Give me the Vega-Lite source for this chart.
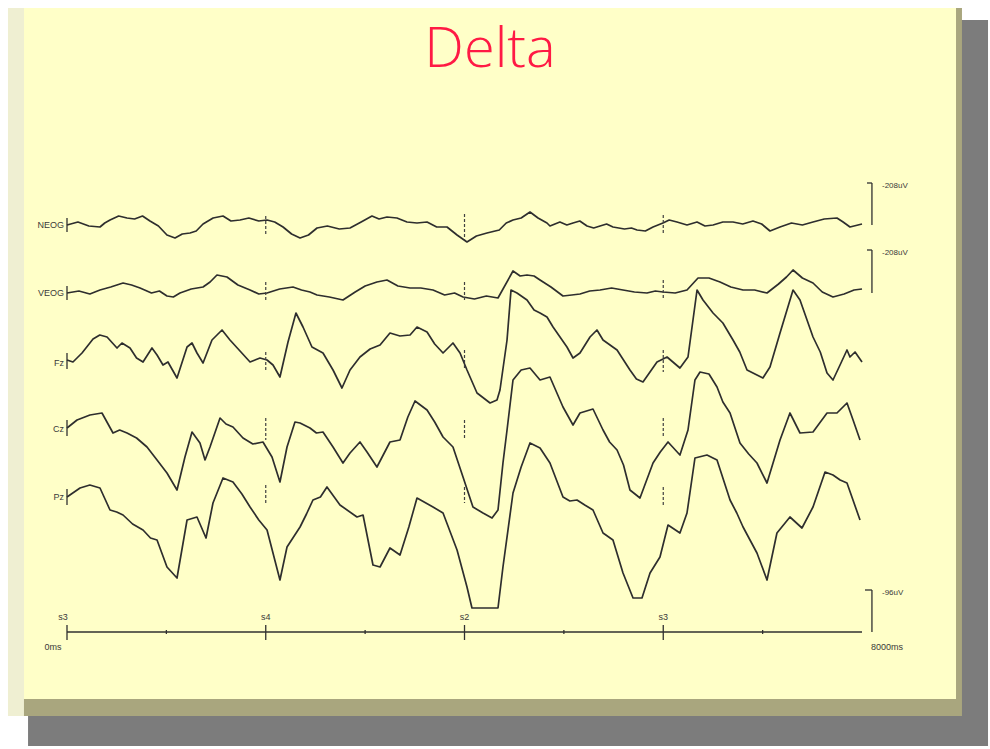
{
  "$schema": "https://vega.github.io/schema/vega-lite/v6.json",
  "autosize": {"type": "fit", "contains": "padding"},
  "width": 990,
  "height": 749,
  "padding": 0,
  "background": "#ffffff",
  "config": {"view": {"stroke": null}},
  "datasets": {
    "panels": [
      {"part": "shadow", "t": -392, "t2": 9268, "v": 612, "v2": -114},
      {"part": "edge", "t": -533, "t2": 9006, "v": 624, "v2": -84},
      {"part": "paper", "t": -533, "t2": 8946, "v": 624, "v2": -67},
      {"part": "leftstrip", "t": -594, "t2": -433, "v": 624, "v2": -84}
    ],
    "traces": [
      {"ch":"NEOG","t":0,"v":407},{"ch":"NEOG","t":332,"v":405},{"ch":"NEOG","t":433,"v":412},{"ch":"NEOG","t":604,"v":414},{"ch":"NEOG","t":835,"v":411},{"ch":"NEOG","t":1006,"v":397},{"ch":"NEOG","t":1087,"v":394},{"ch":"NEOG","t":1238,"v":399},{"ch":"NEOG","t":1369,"v":408},{"ch":"NEOG","t":1570,"v":416},{"ch":"NEOG","t":1741,"v":412},{"ch":"NEOG","t":2013,"v":412},{"ch":"NEOG","t":2174,"v":405},{"ch":"NEOG","t":2345,"v":394},{"ch":"NEOG","t":2516,"v":404},{"ch":"NEOG","t":2848,"v":404},{"ch":"NEOG","t":3069,"v":416},{"ch":"NEOG","t":3220,"v":415},{"ch":"NEOG","t":3421,"v":410},{"ch":"NEOG","t":3522,"v":409},{"ch":"NEOG","t":3623,"v":410},{"ch":"NEOG","t":3824,"v":405},{"ch":"NEOG","t":3925,"v":397},{"ch":"NEOG","t":4025,"v":390},{"ch":"NEOG","t":4226,"v":399},{"ch":"NEOG","t":4488,"v":412},{"ch":"NEOG","t":4659,"v":420},{"ch":"NEOG","t":4830,"v":409},{"ch":"NEOG","t":4860,"v":406},{"ch":"NEOG","t":5092,"v":409},{"ch":"NEOG","t":5233,"v":406},{"ch":"NEOG","t":5364,"v":406},{"ch":"NEOG","t":5494,"v":405},{"ch":"NEOG","t":5736,"v":402},{"ch":"NEOG","t":5897,"v":405},{"ch":"NEOG","t":5997,"v":409},{"ch":"NEOG","t":6138,"v":410},{"ch":"NEOG","t":6239,"v":407},{"ch":"NEOG","t":6340,"v":410},{"ch":"NEOG","t":6501,"v":407},{"ch":"NEOG","t":6702,"v":410},{"ch":"NEOG","t":6903,"v":411},{"ch":"NEOG","t":7074,"v":401},{"ch":"NEOG","t":7175,"v":405},{"ch":"NEOG","t":7507,"v":410},{"ch":"NEOG","t":7748,"v":414},{"ch":"NEOG","t":7879,"v":405},{"ch":"NEOG","t":8000,"v":408},
      {"ch":"NEOG","t":110,"v":410},{"ch":"NEOG","t":220,"v":406},{"ch":"NEOG","t":380,"v":409},{"ch":"NEOG","t":520,"v":416},{"ch":"NEOG","t":680,"v":413},{"ch":"NEOG","t":760,"v":416},{"ch":"NEOG","t":920,"v":406},{"ch":"NEOG","t":1160,"v":398},{"ch":"NEOG","t":1300,"v":401},{"ch":"NEOG","t":1470,"v":414},{"ch":"NEOG","t":1650,"v":411},{"ch":"NEOG","t":1830,"v":414},{"ch":"NEOG","t":1930,"v":411},{"ch":"NEOG","t":2090,"v":410},{"ch":"NEOG","t":2260,"v":398},{"ch":"NEOG","t":2430,"v":397},{"ch":"NEOG","t":2620,"v":406},{"ch":"NEOG","t":2740,"v":403},{"ch":"NEOG","t":2960,"v":410},{"ch":"NEOG","t":3140,"v":413},{"ch":"NEOG","t":3320,"v":414},{"ch":"NEOG","t":3720,"v":405},{"ch":"NEOG","t":4120,"v":396},{"ch":"NEOG","t":4350,"v":402},{"ch":"NEOG","t":4420,"v":409},{"ch":"NEOG","t":4570,"v":414},{"ch":"NEOG","t":4740,"v":414},{"ch":"NEOG","t":4960,"v":410},{"ch":"NEOG","t":5030,"v":407},{"ch":"NEOG","t":5160,"v":411},{"ch":"NEOG","t":5300,"v":404},{"ch":"NEOG","t":5430,"v":408},{"ch":"NEOG","t":5610,"v":403},{"ch":"NEOG","t":5680,"v":404},{"ch":"NEOG","t":5820,"v":401},{"ch":"NEOG","t":6060,"v":412},{"ch":"NEOG","t":6420,"v":406},{"ch":"NEOG","t":6600,"v":410},{"ch":"NEOG","t":6800,"v":408},{"ch":"NEOG","t":6990,"v":408},{"ch":"NEOG","t":7290,"v":409},{"ch":"NEOG","t":7400,"v":407},{"ch":"NEOG","t":7620,"v":413},{"ch":"NEOG","t":7810,"v":410},
      {"ch":"VEOG","t":0,"v":339},{"ch":"VEOG","t":332,"v":342},{"ch":"VEOG","t":564,"v":349},{"ch":"VEOG","t":735,"v":344},{"ch":"VEOG","t":1006,"v":336},{"ch":"VEOG","t":1137,"v":339},{"ch":"VEOG","t":1369,"v":345},{"ch":"VEOG","t":1509,"v":357},{"ch":"VEOG","t":1610,"v":355},{"ch":"VEOG","t":1842,"v":342},{"ch":"VEOG","t":2013,"v":339},{"ch":"VEOG","t":2274,"v":345},{"ch":"VEOG","t":2445,"v":340},{"ch":"VEOG","t":2516,"v":337},{"ch":"VEOG","t":2777,"v":332},{"ch":"VEOG","t":3119,"v":350},{"ch":"VEOG","t":3220,"v":352},{"ch":"VEOG","t":3452,"v":344},{"ch":"VEOG","t":3683,"v":342},{"ch":"VEOG","t":3985,"v":335},{"ch":"VEOG","t":4337,"v":334},{"ch":"VEOG","t":4488,"v":361},{"ch":"VEOG","t":4629,"v":357},{"ch":"VEOG","t":4760,"v":352},{"ch":"VEOG","t":4991,"v":336},{"ch":"VEOG","t":5162,"v":338},{"ch":"VEOG","t":5364,"v":342},{"ch":"VEOG","t":5595,"v":342},{"ch":"VEOG","t":5836,"v":339},{"ch":"VEOG","t":5997,"v":340},{"ch":"VEOG","t":6239,"v":342},{"ch":"VEOG","t":6350,"v":354},{"ch":"VEOG","t":6571,"v":350},{"ch":"VEOG","t":6803,"v":342},{"ch":"VEOG","t":7044,"v":339},{"ch":"VEOG","t":7306,"v":362},{"ch":"VEOG","t":7507,"v":349},{"ch":"VEOG","t":7708,"v":335},{"ch":"VEOG","t":8000,"v":343},
      {"ch":"VEOG","t":120,"v":341},{"ch":"VEOG","t":230,"v":338},{"ch":"VEOG","t":440,"v":345},{"ch":"VEOG","t":650,"v":347},{"ch":"VEOG","t":850,"v":339},{"ch":"VEOG","t":930,"v":341},{"ch":"VEOG","t":1070,"v":335},{"ch":"VEOG","t":1250,"v":343},{"ch":"VEOG","t":1440,"v":350},{"ch":"VEOG","t":1720,"v":347},{"ch":"VEOG","t":1930,"v":338},{"ch":"VEOG","t":2140,"v":343},{"ch":"VEOG","t":2360,"v":342},{"ch":"VEOG","t":2640,"v":335},{"ch":"VEOG","t":2900,"v":340},{"ch":"VEOG","t":3000,"v":346},{"ch":"VEOG","t":3330,"v":346},{"ch":"VEOG","t":3560,"v":344},{"ch":"VEOG","t":3800,"v":337},{"ch":"VEOG","t":3900,"v":339},{"ch":"VEOG","t":4100,"v":333},{"ch":"VEOG","t":4220,"v":336},{"ch":"VEOG","t":4560,"v":356},{"ch":"VEOG","t":4700,"v":356},{"ch":"VEOG","t":4870,"v":345},{"ch":"VEOG","t":5080,"v":337},{"ch":"VEOG","t":5260,"v":341},{"ch":"VEOG","t":5480,"v":344},{"ch":"VEOG","t":5710,"v":340},{"ch":"VEOG","t":5920,"v":341},{"ch":"VEOG","t":6120,"v":339},{"ch":"VEOG","t":6460,"v":354},{"ch":"VEOG","t":6680,"v":345},{"ch":"VEOG","t":6920,"v":342},{"ch":"VEOG","t":7160,"v":348},{"ch":"VEOG","t":7240,"v":355},{"ch":"VEOG","t":7400,"v":354},{"ch":"VEOG","t":7600,"v":340},{"ch":"VEOG","t":7820,"v":338},{"ch":"VEOG","t":7920,"v":342},
      {"ch":"Fz","t":0,"v":272},{"ch":"Fz","t":60,"v":270},{"ch":"Fz","t":151,"v":279},{"ch":"Fz","t":262,"v":293},{"ch":"Fz","t":403,"v":295},{"ch":"Fz","t":503,"v":284},{"ch":"Fz","t":553,"v":289},{"ch":"Fz","t":634,"v":284},{"ch":"Fz","t":765,"v":270},{"ch":"Fz","t":855,"v":284},{"ch":"Fz","t":906,"v":277},{"ch":"Fz","t":966,"v":267},{"ch":"Fz","t":1016,"v":270},{"ch":"Fz","t":1107,"v":254},{"ch":"Fz","t":1208,"v":285},{"ch":"Fz","t":1258,"v":289},{"ch":"Fz","t":1308,"v":279},{"ch":"Fz","t":1369,"v":269},{"ch":"Fz","t":1459,"v":292},{"ch":"Fz","t":1560,"v":302},{"ch":"Fz","t":1640,"v":292},{"ch":"Fz","t":1842,"v":270},{"ch":"Fz","t":1942,"v":274},{"ch":"Fz","t":2013,"v":272},{"ch":"Fz","t":2073,"v":267},{"ch":"Fz","t":2143,"v":255},{"ch":"Fz","t":2224,"v":290},{"ch":"Fz","t":2304,"v":319},{"ch":"Fz","t":2375,"v":305},{"ch":"Fz","t":2465,"v":285},{"ch":"Fz","t":2576,"v":279},{"ch":"Fz","t":2677,"v":262},{"ch":"Fz","t":2767,"v":244},{"ch":"Fz","t":2848,"v":262},{"ch":"Fz","t":2948,"v":275},{"ch":"Fz","t":3150,"v":287},{"ch":"Fz","t":3250,"v":299},{"ch":"Fz","t":3452,"v":297},{"ch":"Fz","t":3522,"v":305},{"ch":"Fz","t":3623,"v":300},{"ch":"Fz","t":3784,"v":279},{"ch":"Fz","t":3884,"v":289},{"ch":"Fz","t":3955,"v":279},{"ch":"Fz","t":4025,"v":262},{"ch":"Fz","t":4126,"v":239},{"ch":"Fz","t":4257,"v":229},{"ch":"Fz","t":4327,"v":232},{"ch":"Fz","t":4357,"v":242},{"ch":"Fz","t":4428,"v":292},{"ch":"Fz","t":4468,"v":342},{"ch":"Fz","t":4528,"v":339},{"ch":"Fz","t":4629,"v":332},{"ch":"Fz","t":4760,"v":319},{"ch":"Fz","t":4891,"v":305},{"ch":"Fz","t":5031,"v":285},{"ch":"Fz","t":5092,"v":274},{"ch":"Fz","t":5162,"v":279},{"ch":"Fz","t":5263,"v":295},{"ch":"Fz","t":5333,"v":302},{"ch":"Fz","t":5394,"v":292},{"ch":"Fz","t":5535,"v":282},{"ch":"Fz","t":5665,"v":262},{"ch":"Fz","t":5796,"v":250},{"ch":"Fz","t":5937,"v":270},{"ch":"Fz","t":6038,"v":275},{"ch":"Fz","t":6168,"v":264},{"ch":"Fz","t":6249,"v":275},{"ch":"Fz","t":6340,"v":342},{"ch":"Fz","t":6400,"v":332},{"ch":"Fz","t":6501,"v":319},{"ch":"Fz","t":6702,"v":292},{"ch":"Fz","t":6843,"v":262},{"ch":"Fz","t":7003,"v":254},{"ch":"Fz","t":7074,"v":265},{"ch":"Fz","t":7175,"v":299},{"ch":"Fz","t":7306,"v":342},{"ch":"Fz","t":7376,"v":332},{"ch":"Fz","t":7507,"v":295},{"ch":"Fz","t":7648,"v":259},{"ch":"Fz","t":7708,"v":252},{"ch":"Fz","t":7779,"v":267},{"ch":"Fz","t":7849,"v":282},{"ch":"Fz","t":7879,"v":275},{"ch":"Fz","t":7930,"v":280},{"ch":"Fz","t":8000,"v":270},
      {"ch":"Fz","t":3050,"v":283},{"ch":"Fz","t":3350,"v":296},{"ch":"Fz","t":3700,"v":288},{"ch":"Fz","t":4700,"v":322},{"ch":"Fz","t":4830,"v":315},{"ch":"Fz","t":5730,"v":253},{"ch":"Fz","t":6600,"v":309},{"ch":"Fz","t":6770,"v":280},{"ch":"Fz","t":7580,"v":280},{"ch":"Fz","t":330,"v":297},{"ch":"Fz","t":700,"v":274},
      {"ch":"Cz","t":0,"v":204},{"ch":"Cz","t":101,"v":212},{"ch":"Cz","t":231,"v":217},{"ch":"Cz","t":352,"v":219},{"ch":"Cz","t":463,"v":199},{"ch":"Cz","t":604,"v":199},{"ch":"Cz","t":805,"v":185},{"ch":"Cz","t":906,"v":172},{"ch":"Cz","t":1006,"v":159},{"ch":"Cz","t":1107,"v":142},{"ch":"Cz","t":1187,"v":175},{"ch":"Cz","t":1258,"v":200},{"ch":"Cz","t":1338,"v":189},{"ch":"Cz","t":1389,"v":172},{"ch":"Cz","t":1439,"v":185},{"ch":"Cz","t":1540,"v":214},{"ch":"Cz","t":1670,"v":205},{"ch":"Cz","t":1771,"v":194},{"ch":"Cz","t":1972,"v":190},{"ch":"Cz","t":2063,"v":175},{"ch":"Cz","t":2143,"v":150},{"ch":"Cz","t":2214,"v":185},{"ch":"Cz","t":2294,"v":210},{"ch":"Cz","t":2345,"v":209},{"ch":"Cz","t":2445,"v":204},{"ch":"Cz","t":2576,"v":200},{"ch":"Cz","t":2677,"v":185},{"ch":"Cz","t":2777,"v":169},{"ch":"Cz","t":2848,"v":179},{"ch":"Cz","t":2948,"v":190},{"ch":"Cz","t":3019,"v":180},{"ch":"Cz","t":3119,"v":165},{"ch":"Cz","t":3250,"v":190},{"ch":"Cz","t":3351,"v":192},{"ch":"Cz","t":3502,"v":231},{"ch":"Cz","t":3623,"v":222},{"ch":"Cz","t":3784,"v":195},{"ch":"Cz","t":3884,"v":185},{"ch":"Cz","t":3985,"v":155},{"ch":"Cz","t":4085,"v":125},{"ch":"Cz","t":4186,"v":119},{"ch":"Cz","t":4277,"v":114},{"ch":"Cz","t":4337,"v":122},{"ch":"Cz","t":4387,"v":169},{"ch":"Cz","t":4428,"v":202},{"ch":"Cz","t":4488,"v":252},{"ch":"Cz","t":4659,"v":264},{"ch":"Cz","t":4760,"v":252},{"ch":"Cz","t":4860,"v":255},{"ch":"Cz","t":4991,"v":225},{"ch":"Cz","t":5092,"v":207},{"ch":"Cz","t":5162,"v":219},{"ch":"Cz","t":5293,"v":223},{"ch":"Cz","t":5394,"v":202},{"ch":"Cz","t":5535,"v":182},{"ch":"Cz","t":5665,"v":142},{"ch":"Cz","t":5766,"v":134},{"ch":"Cz","t":5897,"v":169},{"ch":"Cz","t":6048,"v":190},{"ch":"Cz","t":6168,"v":177},{"ch":"Cz","t":6249,"v":202},{"ch":"Cz","t":6319,"v":252},{"ch":"Cz","t":6370,"v":260},{"ch":"Cz","t":6541,"v":245},{"ch":"Cz","t":6672,"v":219},{"ch":"Cz","t":6772,"v":189},{"ch":"Cz","t":6943,"v":169},{"ch":"Cz","t":7044,"v":149},{"ch":"Cz","t":7175,"v":192},{"ch":"Cz","t":7275,"v":219},{"ch":"Cz","t":7376,"v":199},{"ch":"Cz","t":7507,"v":200},{"ch":"Cz","t":7648,"v":219},{"ch":"Cz","t":7748,"v":219},{"ch":"Cz","t":7849,"v":229},{"ch":"Cz","t":7910,"v":212},{"ch":"Cz","t":7980,"v":192},
      {"ch":"Cz","t":530,"v":202},{"ch":"Cz","t":700,"v":194},{"ch":"Cz","t":1600,"v":208},{"ch":"Cz","t":1870,"v":188},{"ch":"Cz","t":2510,"v":199},{"ch":"Cz","t":3430,"v":215},{"ch":"Cz","t":3700,"v":210},{"ch":"Cz","t":4570,"v":262},{"ch":"Cz","t":5460,"v":190},{"ch":"Cz","t":5600,"v":167},{"ch":"Cz","t":5970,"v":180},{"ch":"Cz","t":6460,"v":258},{"ch":"Cz","t":6600,"v":230},{"ch":"Cz","t":6860,"v":178},
      {"ch":"Pz","t":0,"v":135},{"ch":"Pz","t":131,"v":144},{"ch":"Pz","t":332,"v":144},{"ch":"Pz","t":433,"v":122},{"ch":"Pz","t":564,"v":117},{"ch":"Pz","t":765,"v":102},{"ch":"Pz","t":906,"v":92},{"ch":"Pz","t":1006,"v":65},{"ch":"Pz","t":1107,"v":54},{"ch":"Pz","t":1208,"v":112},{"ch":"Pz","t":1308,"v":115},{"ch":"Pz","t":1399,"v":94},{"ch":"Pz","t":1469,"v":129},{"ch":"Pz","t":1570,"v":154},{"ch":"Pz","t":1670,"v":150},{"ch":"Pz","t":1842,"v":125},{"ch":"Pz","t":2013,"v":102},{"ch":"Pz","t":2143,"v":52},{"ch":"Pz","t":2214,"v":85},{"ch":"Pz","t":2345,"v":105},{"ch":"Pz","t":2475,"v":132},{"ch":"Pz","t":2616,"v":145},{"ch":"Pz","t":2747,"v":127},{"ch":"Pz","t":2918,"v":115},{"ch":"Pz","t":2979,"v":117},{"ch":"Pz","t":3079,"v":67},{"ch":"Pz","t":3150,"v":65},{"ch":"Pz","t":3250,"v":84},{"ch":"Pz","t":3351,"v":77},{"ch":"Pz","t":3522,"v":134},{"ch":"Pz","t":3683,"v":125},{"ch":"Pz","t":3784,"v":119},{"ch":"Pz","t":3925,"v":82},{"ch":"Pz","t":4025,"v":45},{"ch":"Pz","t":4075,"v":24},{"ch":"Pz","t":4337,"v":24},{"ch":"Pz","t":4387,"v":65},{"ch":"Pz","t":4488,"v":139},{"ch":"Pz","t":4659,"v":189},{"ch":"Pz","t":4760,"v":184},{"ch":"Pz","t":4860,"v":169},{"ch":"Pz","t":4991,"v":135},{"ch":"Pz","t":5132,"v":132},{"ch":"Pz","t":5293,"v":122},{"ch":"Pz","t":5394,"v":99},{"ch":"Pz","t":5494,"v":92},{"ch":"Pz","t":5595,"v":59},{"ch":"Pz","t":5696,"v":34},{"ch":"Pz","t":5786,"v":34},{"ch":"Pz","t":5867,"v":59},{"ch":"Pz","t":5967,"v":75},{"ch":"Pz","t":6048,"v":107},{"ch":"Pz","t":6168,"v":99},{"ch":"Pz","t":6239,"v":119},{"ch":"Pz","t":6319,"v":174},{"ch":"Pz","t":6440,"v":177},{"ch":"Pz","t":6541,"v":172},{"ch":"Pz","t":6672,"v":132},{"ch":"Pz","t":6803,"v":105},{"ch":"Pz","t":6943,"v":79},{"ch":"Pz","t":7044,"v":52},{"ch":"Pz","t":7144,"v":99},{"ch":"Pz","t":7275,"v":115},{"ch":"Pz","t":7396,"v":104},{"ch":"Pz","t":7507,"v":125},{"ch":"Pz","t":7628,"v":160},{"ch":"Pz","t":7708,"v":157},{"ch":"Pz","t":7849,"v":149},{"ch":"Pz","t":7980,"v":112},
      {"ch":"Pz","t":230,"v":147},{"ch":"Pz","t":500,"v":120},{"ch":"Pz","t":660,"v":108},{"ch":"Pz","t":840,"v":94},{"ch":"Pz","t":1760,"v":138},{"ch":"Pz","t":1930,"v":112},{"ch":"Pz","t":2410,"v":118},{"ch":"Pz","t":2550,"v":135},{"ch":"Pz","t":3440,"v":105},{"ch":"Pz","t":4570,"v":165},{"ch":"Pz","t":5060,"v":131},{"ch":"Pz","t":5210,"v":127},{"ch":"Pz","t":6740,"v":119},{"ch":"Pz","t":7780,"v":152}
    ],
    "solidRules": [
      {"t":0,"t2":0,"v":414,"v2":400},
      {"t":0,"t2":0,"v":346,"v2":332},
      {"t":0,"t2":0,"v":279,"v2":263},
      {"t":0,"t2":0,"v":212,"v2":196},
      {"t":0,"t2":0,"v":143,"v2":127},
      {"t":0,"t2":8000,"v":0,"v2":0},
      {"t":0,"t2":0,"v":-8,"v2":7},
      {"t":2000,"t2":2000,"v":-8,"v2":7},
      {"t":4000,"t2":4000,"v":-8,"v2":7},
      {"t":6000,"t2":6000,"v":-8,"v2":7},
      {"t":1000,"t2":1000,"v":-2,"v2":2},
      {"t":3000,"t2":3000,"v":-2,"v2":2},
      {"t":5000,"t2":5000,"v":-2,"v2":2},
      {"t":7000,"t2":7000,"v":-2,"v2":2},
      {"t":8100,"t2":8100,"v":449,"v2":407},
      {"t":8100,"t2":8100,"v":382,"v2":339},
      {"t":8100,"t2":8100,"v":42,"v2":0},
      {"t":8050,"t2":8100,"v":449,"v2":449},
      {"t":8050,"t2":8100,"v":382,"v2":382},
      {"t":8030,"t2":8100,"v":42,"v2":42}
    ],
    "events": [
      {"t":2000,"v":416,"v2":398},{"t":4000,"v":418,"v2":392},{"t":6000,"v":417,"v2":397},
      {"t":2000,"v":350,"v2":332},{"t":4000,"v":350,"v2":332},{"t":6000,"v":352,"v2":332},
      {"t":2000,"v":280,"v2":260},{"t":4000,"v":282,"v2":262},{"t":6000,"v":282,"v2":260},
      {"t":2000,"v":214,"v2":192},{"t":4000,"v":212,"v2":192},{"t":6000,"v":214,"v2":194},
      {"t":2000,"v":147,"v2":127},{"t":4000,"v":145,"v2":129},{"t":6000,"v":145,"v2":127}
    ],
    "chanLabels": [
      {"t":-30,"v":404,"txt":"NEOG"},
      {"t":-30,"v":336,"txt":"VEOG"},
      {"t":-30,"v":266,"txt":"Fz"},
      {"t":-30,"v":200,"txt":"Cz"},
      {"t":-30,"v":132,"txt":"Pz"}
    ],
    "centerLabels": [
      {"t":-40,"v":12,"txt":"s3"},
      {"t":2000,"v":12,"txt":"s4"},
      {"t":4000,"v":12,"txt":"s2"},
      {"t":6000,"v":12,"txt":"s3"},
      {"t":-141,"v":-18,"txt":"0ms"},
      {"t":8251,"v":-18,"txt":"8000ms"}
    ],
    "scaleLabels": [
      {"t":8201,"v":444,"txt":"-208uV"},
      {"t":8201,"v":377,"txt":"-208uV"},
      {"t":8201,"v":37,"txt":"-96uV"}
    ],
    "title": [
      {"t":4257,"v":565,"txt":"Delta"}
    ]
  },
  "encoding": {},
  "layer": [
    {
      "data": {"name": "panels"},
      "mark": {"type": "rect"},
      "encoding": {
        "x": {"field": "t", "type": "quantitative", "scale": {"domain": [-674.2, 9288], "nice": false, "zero": false}, "axis": null},
        "x2": {"field": "t2"},
        "y": {"field": "v", "type": "quantitative", "scale": {"domain": [-117, 632], "nice": false, "zero": false}, "axis": null},
        "y2": {"field": "v2"},
        "color": {"field": "part", "type": "nominal", "scale": {"domain": ["shadow", "edge", "paper", "leftstrip"], "range": ["#7c7c7c", "#a9a67e", "#ffffc8", "#efefd2"]}, "legend": null}
      }
    },
    {
      "data": {"name": "traces"},
      "mark": {"type": "line", "color": "#2e2e2e", "strokeWidth": 1.7, "strokeJoin": "round", "interpolate": "linear"},
      "encoding": {
        "x": {"field": "t", "type": "quantitative"},
        "y": {"field": "v", "type": "quantitative"},
        "detail": {"field": "ch", "type": "nominal"},
        "order": {"field": "t", "type": "quantitative"}
      }
    },
    {
      "data": {"name": "solidRules"},
      "mark": {"type": "rule", "color": "#303030", "strokeWidth": 1.3},
      "encoding": {
        "x": {"field": "t", "type": "quantitative"},
        "x2": {"field": "t2"},
        "y": {"field": "v", "type": "quantitative"},
        "y2": {"field": "v2"}
      }
    },
    {
      "data": {"name": "events"},
      "mark": {"type": "rule", "color": "#404040", "strokeWidth": 1.2, "strokeDash": [3, 2]},
      "encoding": {
        "x": {"field": "t", "type": "quantitative"},
        "y": {"field": "v", "type": "quantitative"},
        "y2": {"field": "v2"}
      }
    },
    {
      "data": {"name": "chanLabels"},
      "mark": {"type": "text", "align": "right", "baseline": "alphabetic", "font": "Liberation Sans", "fontSize": 9, "color": "#3a3a3a"},
      "encoding": {
        "x": {"field": "t", "type": "quantitative"},
        "y": {"field": "v", "type": "quantitative"},
        "text": {"field": "txt"}
      }
    },
    {
      "data": {"name": "centerLabels"},
      "mark": {"type": "text", "align": "center", "baseline": "alphabetic", "font": "Liberation Sans", "fontSize": 9, "color": "#3a3a3a"},
      "encoding": {
        "x": {"field": "t", "type": "quantitative"},
        "y": {"field": "v", "type": "quantitative"},
        "text": {"field": "txt"}
      }
    },
    {
      "data": {"name": "scaleLabels"},
      "mark": {"type": "text", "align": "left", "baseline": "alphabetic", "font": "Liberation Sans", "fontSize": 8, "color": "#3a3a3a"},
      "encoding": {
        "x": {"field": "t", "type": "quantitative"},
        "y": {"field": "v", "type": "quantitative"},
        "text": {"field": "txt"}
      }
    },
    {
      "data": {"name": "title"},
      "mark": {"type": "text", "align": "center", "baseline": "alphabetic", "font": "Open Sans", "fontWeight": 300, "fontSize": 56, "color": "#ff1a44"},
      "encoding": {
        "x": {"field": "t", "type": "quantitative"},
        "y": {"field": "v", "type": "quantitative"},
        "text": {"field": "txt"}
      }
    }
  ]
}
